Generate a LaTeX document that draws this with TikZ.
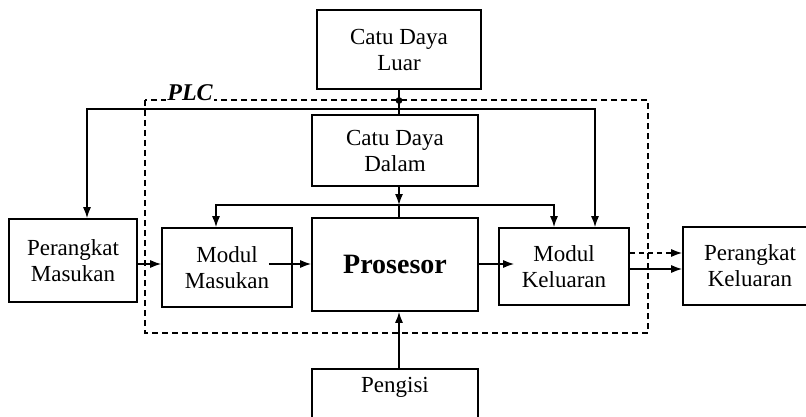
\documentclass[tikz,border=0pt]{standalone}
\usepackage{fontspec}
\setmainfont{Liberation Serif}
\usetikzlibrary{arrows.meta}
\begin{document}
\begin{tikzpicture}[x=1pt,y=-1pt,
  box/.style={draw, line width=1.6pt, align=center, inner sep=0pt,
    font=\fontsize{23}{26}\selectfont},
  conn/.style={line width=1.5pt},
  arr/.style={conn, -{Latex[length=11pt,width=8pt]}},
  plcline/.style={line width=1.5pt, dash pattern=on 6pt off 4pt}]
\useasboundingbox (0,0) rectangle (806,417);
\fill[white] (0,0) rectangle (806,417);
\clip (0,0) rectangle (806,417);
% PLC boundary
\draw[plcline] (145,100) rectangle (648,333);
\node (plc) [fill=white, inner sep=1pt, font=\fontsize{24}{26}\selectfont\bfseries\itshape] at (190,93) {PLC};
% boxes
\node (luar) [box, minimum width=164pt, minimum height=79pt] at (399,49.5) {Catu Daya\\Luar};
\node (dalam) [box, minimum width=166pt, minimum height=71pt] at (395,150.5) {Catu Daya\\Dalam};
\node (pros) [box, minimum width=166pt, minimum height=93pt, font=\fontsize{28}{30}\selectfont\bfseries] at (395,264.5) {Prosesor};
\node (mm) [box, minimum width=130pt, minimum height=79pt] at (227,267.5) {Modul\\Masukan};
\node (pm) [box, minimum width=128pt, minimum height=83pt] at (73,260.5) {Perangkat\\Masukan};
\node (mk) [box, minimum width=130pt, minimum height=77pt] at (564,266.5) {Modul\\Keluaran};
\node (pk) [box, minimum width=134pt, minimum height=78pt] at (750,266) {Perangkat\\Keluaran};
\node (peng) [box, anchor=north, minimum width=166pt, text height=16pt, text depth=60pt, inner ysep=8pt] at (395,368) {Pengisi};
% junctions
\coordinate (j1) at (399,100.5);
\coordinate (j2) at (399,109);
\coordinate (j3) at (399,205);
% external supply
\draw[conn] (luar.south) -- (j1);
\fill (j1) circle (3.4pt);
\draw[conn] (j1) -- (j1 |- dalam.north);
% solid bus
\draw[arr] (j2) -| ([xshift=14pt]pm.north);
\draw[arr] (j2) -| ([xshift=31pt]mk.north);
% internal supply
\draw[arr] (j3 |- dalam.south) -- (j3);
\draw[conn] (j3) -- (j3 |- pros.north);
\draw[arr] (j3) -| ([xshift=-11pt]mm.north);
\draw[arr] (j3) -| ([xshift=-10pt]mk.north);
% signal flow
\draw[arr] (pm.east |- 0,264) -- (mm.west |- 0,264);
\draw[arr] ([xshift=-24pt]mm.east |- 0,264) -- (pros.west |- 0,264);
\draw[arr] (pros.east |- 0,264) -- ([xshift=16pt]mk.west |- 0,264);
\draw[arr, dash pattern=on 5pt off 4pt] (mk.east |- 0,253) -- (pk.west |- 0,253);
\draw[arr] (mk.east |- 0,269) -- (pk.west |- 0,269);
\draw[arr] (peng.north -| j3) -- (pros.south -| j3);
\end{tikzpicture}
\end{document}
